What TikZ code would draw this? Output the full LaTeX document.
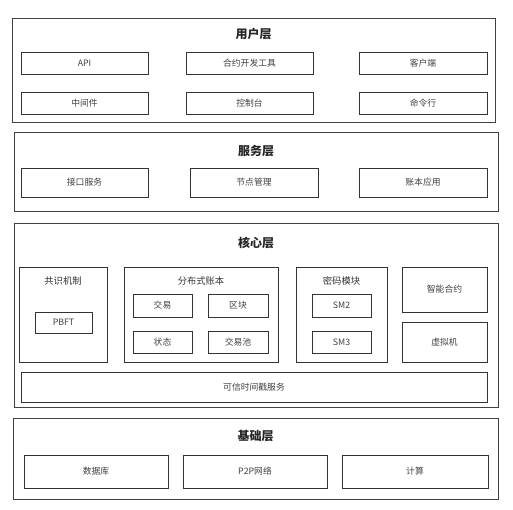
\documentclass[tikz,border=0pt]{standalone}
\usepackage{fontspec}
\setmainfont{Noto Sans CJK SC}
\tikzset{
  box/.style={draw=black!80,line width=1pt,inner sep=0pt,font=\fontsize{8.8}{10}\selectfont,text=black!75},
  layer/.style={draw=black!75,line width=1pt,inner sep=0pt},
  title/.style={font=\fontsize{12}{14}\selectfont\bfseries,text=black!85},
  subtitle/.style={font=\fontsize{9.3}{11}\selectfont,text=black!80}
}
\begin{document}
\begin{tikzpicture}[x=1pt,y=-1pt]
\useasboundingbox (0,0) rectangle (513,509);
% user layer
\node[layer,minimum width=483pt,minimum height=104pt] (user) at (253.5,70) {};
\node[title] (usert) at (253.5,34) {用户层};
\node[box,minimum width=127pt,minimum height=22pt] (api) at (84.5,63) {API};
\node[box,minimum width=127pt,minimum height=22pt] (tool) at (249.5,63) {合约开发工具};
\node[box,minimum width=128pt,minimum height=22pt] (client) at (423,63) {客户端};
\node[box,minimum width=127pt,minimum height=22pt] (mid) at (84.5,103) {中间件};
\node[box,minimum width=127pt,minimum height=22pt] (console) at (249.5,103) {控制台};
\node[box,minimum width=128pt,minimum height=22pt] (cli) at (423,103) {命令行};
% service layer
\node[layer,minimum width=484pt,minimum height=79pt] (serv) at (256,171.5) {};
\node[title] (servt) at (256,151) {服务层};
\node[box,minimum width=127pt,minimum height=29pt] (iface) at (84.5,182.5) {接口服务};
\node[box,minimum width=128pt,minimum height=29pt] (nodem) at (254,182.5) {节点管理};
\node[box,minimum width=128pt,minimum height=29pt] (ledapp) at (423,182.5) {账本应用};
% core layer
\node[layer,minimum width=484pt,minimum height=184pt] (core) at (256,315) {};
\node[title] (coret) at (256,243) {核心层};
\node[box,minimum width=88pt,minimum height=95pt] (cons) at (63,314.5) {};
\node[subtitle] at (63,281) {共识机制};
\node[box,minimum width=57pt,minimum height=21pt] (pbft) at (63.5,322.5) {PBFT};
\node[box,minimum width=154pt,minimum height=95pt] (ledger) at (201,314.5) {};
\node[subtitle] at (201,281) {分布式账本};
\node[box,minimum width=59pt,minimum height=23pt] (tx) at (162.5,305.5) {交易};
\node[box,minimum width=60pt,minimum height=23pt] (block) at (238,305.5) {区块};
\node[box,minimum width=59pt,minimum height=22pt] (state) at (162.5,342) {状态};
\node[box,minimum width=60pt,minimum height=22pt] (pool) at (238,342) {交易池};
\node[box,minimum width=91pt,minimum height=95pt] (crypto) at (341.5,314.5) {};
\node[subtitle] at (341.5,281) {密码模块};
\node[box,minimum width=59pt,minimum height=23pt] (smtwo) at (341.5,305.5) {SM2};
\node[box,minimum width=59pt,minimum height=22pt] (smthree) at (341.5,342) {SM3};
\node[box,minimum width=85pt,minimum height=45pt] (contract) at (444.5,289.5) {智能合约};
\node[box,minimum width=85pt,minimum height=40pt] (vm) at (444.5,342) {虚拟机};
\node[box,minimum width=466pt,minimum height=30pt] (tsa) at (254,387) {可信时间戳服务};
% base layer
\node[layer,minimum width=485pt,minimum height=81pt] (base) at (255.5,458.5) {};
\node[title] (baset) at (255.5,436) {基础层};
\node[box,minimum width=144pt,minimum height=33pt] (db) at (96,471.5) {数据库};
\node[box,minimum width=144pt,minimum height=33pt] (ptp) at (255,471.5) {P2P网络};
\node[box,minimum width=146pt,minimum height=33pt] (calc) at (415,471.5) {计算};
\end{tikzpicture}
\end{document}
